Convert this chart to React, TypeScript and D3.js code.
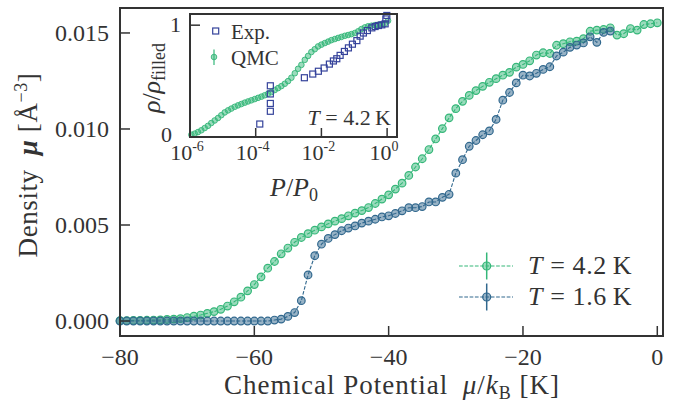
import React from "react";
import * as d3 from "d3";

// ---------- Main panel data ----------
const muGreen = [
  -80, -79, -78, -77, -76, -75, -74, -73, -72, -71, -70, -69, -68, -67, -66, -65, -64, -63, -62, -61,
  -60, -59, -58, -57, -56, -55, -54, -53, -52, -51, -50, -49, -48, -47, -46, -45, -44, -43, -42, -41,
  -40, -39, -38, -37, -36, -35, -34, -33, -32, -31, -30, -29, -28, -27, -26, -25, -24, -23, -22, -21,
  -20, -19, -18, -17, -16, -15, -14, -13, -12, -11, -10, -9, -8, -7, -6, -5, -4, -3, -2, -1, 0,
];
const rhoGreen = [
  0.00002, 0.00002, 0.00003, 0.00003, 0.00004, 0.00005, 0.00006, 0.00008, 0.0001, 0.00012,
  0.00018, 0.00025, 0.00031, 0.0004, 0.00049, 0.00061, 0.00078, 0.001, 0.00124, 0.00157,
  0.0019, 0.0023, 0.00275, 0.0031, 0.0035, 0.0038, 0.0041, 0.00435, 0.00455, 0.00473,
  0.0049, 0.00506, 0.0052, 0.00533, 0.00548, 0.00562, 0.00575, 0.00591, 0.00612, 0.00635,
  0.00657, 0.00687, 0.00718, 0.00758, 0.00802, 0.00845, 0.00893, 0.00948, 0.01002, 0.01058,
  0.01106, 0.01144, 0.01175, 0.012, 0.01222, 0.01243, 0.01262, 0.0128, 0.01295, 0.01322,
  0.01336, 0.01355, 0.01385, 0.01397, 0.01393, 0.01436, 0.01444, 0.01454, 0.01457, 0.0147,
  0.01509, 0.01515, 0.01518, 0.01527, 0.01489, 0.01496, 0.01523, 0.01515, 0.01544, 0.01548, 0.01553,
];
const muBlue = [
  -80, -79, -78, -77, -76, -75, -74, -73, -72, -71, -70, -69, -68, -67, -66, -65, -64, -63, -62, -61,
  -60, -59, -58, -57, -56, -55, -54, -53, -52, -51, -50, -49, -48, -47, -46, -45, -44, -43, -42, -41,
  -40, -39, -38, -37, -36, -35, -34, -33, -32, -31, -30, -29, -28, -27, -26, -25, -24, -23, -22, -21,
  -20, -19, -18, -17, -16, -15, -14, -13, -12, -11, -10, -9, -8, -7,
];
const rhoBlue = [
  0, 0, 0, 0, 0, 0, 0, 0, 0, 0, 0, 0, 0, 0, 0, 0, 0, 0, 0, 0,
  0, 0, 0, 0.00005, 0.0001, 0.00024, 0.00044, 0.00106, 0.0024, 0.0034,
  0.004, 0.0043, 0.0045, 0.0047, 0.00484, 0.00495, 0.0051, 0.0052, 0.0053, 0.00542,
  0.00548, 0.0056, 0.00574, 0.0059, 0.0059, 0.00596, 0.0062, 0.0062, 0.00644, 0.0066,
  0.0077, 0.0084, 0.0091, 0.0094, 0.0097, 0.0099, 0.0105, 0.0115, 0.0119, 0.0124,
  0.0128, 0.01276, 0.0129, 0.0131, 0.01324, 0.0138, 0.014, 0.01425, 0.01437, 0.01448,
  0.0148, 0.01451, 0.01503, 0.0151,
];
const xTicks = [-80, -60, -40, -20, 0];
const xTickLabels = ["\u221280", "\u221260", "\u221240", "\u221220", "0"];
const yTicks = [0, 0.005, 0.01, 0.015];
const yTickLabels = ["0.000", "0.005", "0.010", "0.015"];
const legendLabels = ["4.2", "1.6"];

// ---------- Inset data ----------
const qmcP = [
  1.1e-6, 1.39e-6, 1.75e-6, 2.21e-6, 2.8e-6, 3.53e-6, 4.45e-6, 5.65e-6, 7.13e-6, 8.98e-6,
  1.14e-5, 1.44e-5, 1.81e-5, 2.3e-5, 2.9e-5, 3.66e-5, 4.64e-5, 5.85e-5, 7.37e-5, 9.35e-5,
  1.18e-4, 1.49e-4, 1.88e-4, 2.38e-4, 2.99e-4, 3.8e-4, 4.79e-4, 6.04e-4, 7.67e-4, 9.66e-4,
  1.22e-3, 1.55e-3, 1.95e-3, 2.46e-3, 3.12e-3, 3.93e-3, 4.95e-3, 6.28e-3, 7.92e-3, 9.98e-3,
  0.0127, 0.016, 0.0201, 0.0256, 0.0322, 0.0406, 0.0515, 0.065, 0.0819, 0.104,
  0.131, 0.165, 0.21, 0.264, 0.333, 0.423, 0.532, 0.671, 0.853, 1.07,
];
const qmcRho = [
  0.02, 0.03, 0.044, 0.06, 0.08, 0.1, 0.125, 0.148, 0.17, 0.195,
  0.22, 0.238, 0.254, 0.27, 0.283, 0.295, 0.307, 0.318, 0.328, 0.339,
  0.35, 0.361, 0.373, 0.387, 0.402, 0.42, 0.437, 0.455, 0.476, 0.5,
  0.53, 0.57, 0.61, 0.645, 0.69, 0.725, 0.76, 0.785, 0.81, 0.826,
  0.84, 0.853, 0.866, 0.876, 0.886, 0.895, 0.905, 0.912, 0.92, 0.93,
  0.945, 0.965, 0.98, 0.99, 0.995, 1.0, 1.004, 1.008, 1.012, 1.04,
];
const expP = [
  1.33e-4, 2.79e-4, 2.79e-4, 2.79e-4, 2.79e-4, 3.03e-3, 5.46e-3, 8.09e-3, 0.0121, 0.0175,
  0.0232, 0.0294, 0.0371, 0.0501, 0.0664, 0.0879, 0.12, 0.151, 0.19, 0.251,
  0.343, 0.432, 0.545, 0.69, 0.871, 0.914, 0.98,
];
const expRho = [
  0.116, 0.23, 0.3, 0.385, 0.458, 0.53, 0.563, 0.588, 0.617, 0.652,
  0.68, 0.7, 0.73, 0.765, 0.797, 0.83, 0.862, 0.902, 0.93, 0.952,
  0.976, 0.988, 0.997, 1.003, 1.012, 1.056, 1.087,
];
const insetXTicks = [1e-6, 1e-4, 1e-2, 1];
const insetXExp = ["-6", "-4", "-2", "0"];
const insetYTicks = [0, 1];

const GREEN = "#35b779";
const BLUE = "#31688e";
const NAVY = "#35439b";
const INK = "#333333";
const FONT = "'Liberation Serif', 'DejaVu Serif', 'Times New Roman', serif";

export default function App() {
  const W = 689, H = 405;
  const L = 120, R = 663, T = 8, B = 336;
  const x = d3.scaleLinear().domain([-80, 0.85]).range([L, R]);
  const y = d3.scaleLinear().domain([-0.00078, 0.0163]).range([B, T]);

  const iL = 190, iR = 397, iT = 14, iB = 137;
  const ix = d3.scaleLog().domain([1e-6, 2]).range([iL, iR]);
  const iy = d3.scaleLinear().domain([0, 1.1]).range([iB, iT]);

  const greenPts = muGreen.map((m, i) => [x(m), y(rhoGreen[i])] as [number, number]);
  const bluePts = muBlue.map((m, i) => [x(m), y(rhoBlue[i])] as [number, number]);
  const line = d3.line();

  const tickFont = 24;
  const ts = { fontFamily: FONT };
  const lab = { fontFamily: FONT, letterSpacing: "0.6px" };
  const xlab = { fontFamily: FONT, letterSpacing: "1px" };

  return (
    <svg width={W} height={H} style={{ position: "absolute", left: 0, top: 0, background: "#fff", fontFamily: FONT }}>
      <style>{`text, tspan { font-family: ${FONT}; }`}</style>
      <rect x={0} y={0} width={W} height={H} fill="#fff" />
      {/* main data */}
      <path d={line(greenPts) || ""} fill="none" stroke={GREEN} strokeWidth={1.1} strokeDasharray="3.7,1.6" />
      {greenPts.map((p, i) => (
        <circle key={"g" + i} cx={p[0]} cy={p[1]} r={3.8} fill={GREEN} fillOpacity={0.5} stroke={GREEN} strokeWidth={1.2} />
      ))}
      <path d={line(bluePts) || ""} fill="none" stroke={BLUE} strokeWidth={1.1} strokeDasharray="3.7,1.6" />
      {bluePts.map((p, i) => (
        <circle key={"b" + i} cx={p[0]} cy={p[1]} r={3.8} fill={BLUE} fillOpacity={0.5} stroke={BLUE} strokeWidth={1.2} />
      ))}

      {/* main frame */}
      <rect x={L} y={T} width={R - L} height={B - T} fill="none" stroke={INK} strokeWidth={2} />
      {xTicks.map((t, i) => (
        <g key={"xt" + i}>
          <line x1={x(t)} x2={x(t)} y1={B} y2={B - 10} stroke={INK} strokeWidth={1.5} />
          <text style={ts} x={x(t)} y={365} textAnchor="middle" fontSize={tickFont} fill={INK}>{xTickLabels[i]}</text>
        </g>
      ))}
      {yTicks.map((t, i) => (
        <g key={"yt" + i}>
          <line x1={L} x2={L + 10} y1={y(t)} y2={y(t)} stroke={INK} strokeWidth={1.5} />
          <text style={ts} x={109} y={y(t) + 8} textAnchor="end" fontSize={tickFont} fill={INK}>{yTickLabels[i]}</text>
        </g>
      ))}
      <text style={xlab} x={392} y={394} textAnchor="middle" fontSize={27} fill={INK}>
        Chemical Potential{"\u2002"}<tspan fontStyle="italic">μ</tspan>/<tspan fontStyle="italic">k</tspan>
        <tspan fontSize={18} dy={5}>B</tspan>
        <tspan dy={-5}>{" "}[K]</tspan>
      </text>
      <text style={lab} transform="translate(37,165) rotate(-90)" textAnchor="middle" fontSize={27} fill={INK}>
        Density{"\u2002"}<tspan fontStyle="italic" fontWeight="bold">μ</tspan>{" "}[Å
        <tspan fontSize={18} dy={-10}>−3</tspan>
        <tspan dy={10}>]</tspan>
      </text>

      {/* main legend */}
      {[GREEN, BLUE].map((c, i) => {
        const ly = 266 + i * 31;
        return (
          <g key={"lg" + i}>
            <line x1={459} x2={513} y1={ly} y2={ly} stroke={c} strokeWidth={1.1} strokeDasharray="3.7,1.6" />
            <line x1={486.7} x2={486.7} y1={ly - 13.5} y2={ly + 13.5} stroke={c} strokeWidth={1.5} />
            <circle cx={486.7} cy={ly} r={4} fill={c} fillOpacity={0.5} stroke={c} strokeWidth={1.2} />
            <text style={lab} x={528} y={ly + 8} fontSize={26} fill={INK}>
              <tspan fontStyle="italic">T</tspan> = {legendLabels[i]}{"\u2009"}K
            </text>
          </g>
        );
      })}

      {/* inset */}
      <rect x={iL} y={iT} width={iR - iL} height={iB - iT} fill="#fff" />
      {qmcP.map((p, i) => (
        <circle key={"q" + i} cx={ix(p)} cy={iy(qmcRho[i])} r={2.8} fill={GREEN} fillOpacity={0.5} stroke={GREEN} strokeWidth={0.9} />
      ))}
      {expP.map((p, i) => (
        <rect key={"e" + i} x={ix(p) - 3} y={iy(expRho[i]) - 3} width={6} height={6} fill="none" stroke={NAVY} strokeWidth={1.2} />
      ))}
      <rect x={iL} y={iT} width={iR - iL} height={iB - iT} fill="none" stroke={INK} strokeWidth={2} />
      {insetXTicks.map((t, i) => (
        <g key={"ixt" + i}>
          <line x1={ix(t)} x2={ix(t)} y1={iB} y2={iB - 9} stroke={INK} strokeWidth={1.5} />
          <text style={ts} x={ix(t) - 3} y={160} textAnchor="middle" fontSize={22} fill={INK}>
            10<tspan fontSize={14} dy={-9}>{insetXExp[i]}</tspan>
          </text>
        </g>
      ))}
      {insetYTicks.map((t, i) => (
        <g key={"iyt" + i}>
          <line x1={iL} x2={iL + 10} y1={iy(t)} y2={iy(t)} stroke={INK} strokeWidth={1.5} />
          <text style={ts} x={i === 0 ? 172 : 181} y={iy(t) + 7 - (i === 0 ? 2 : 0)} textAnchor="end" fontSize={22} fill={INK}>{t}</text>
        </g>
      ))}
      <text style={ts} x={294} y={196} textAnchor="middle" fontSize={26} fill={INK}>
        <tspan fontStyle="italic">P</tspan>/<tspan fontStyle="italic">P</tspan>
        <tspan fontSize={18} dy={5}>0</tspan>
      </text>
      <text style={ts} transform="translate(160,78) rotate(-90)" textAnchor="middle" fontSize={26} fill={INK}>
        <tspan fontStyle="italic">ρ</tspan>/<tspan fontStyle="italic">ρ</tspan>
        <tspan fontSize={18} dy={5}>filled</tspan>
      </text>
      {/* inset legend */}
      <rect x={215.7 - 3} y={31 - 3} width={6} height={6} fill="none" stroke={NAVY} strokeWidth={1.2} />
      <text style={ts} x={231} y={38.5} fontSize={21} fill={INK}>Exp.</text>
      <line x1={214} x2={214} y1={49.5} y2={65} stroke={GREEN} strokeWidth={1.2} />
      <circle cx={214} cy={57} r={2.8} fill={GREEN} fillOpacity={0.5} stroke={GREEN} strokeWidth={0.9} />
      <text style={ts} x={231} y={64.5} fontSize={21} fill={INK}>QMC</text>
      <text style={ts} x={391} y={125} textAnchor="end" fontSize={22} fill={INK}>
        <tspan fontStyle="italic">T</tspan> = 4.2{"\u2009"}K
      </text>
    </svg>
  );
}
